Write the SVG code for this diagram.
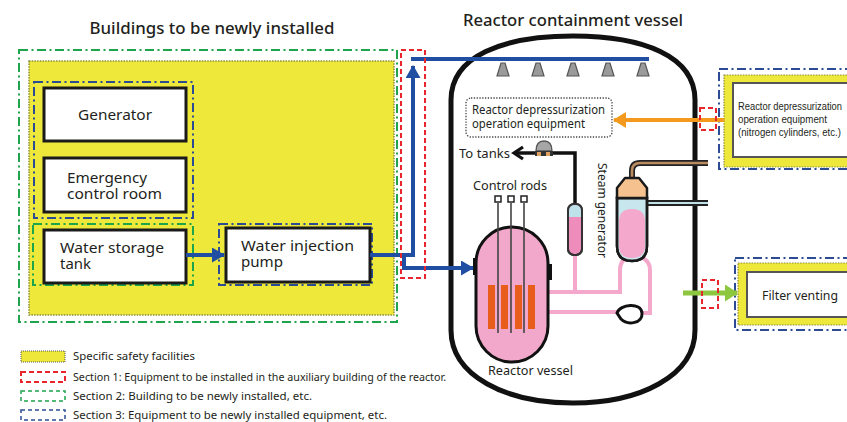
<svg xmlns="http://www.w3.org/2000/svg" width="847" height="422" viewBox="0 0 847 422">
  <style>
    text { font-family: "Noto Sans", "Liberation Sans", sans-serif; fill: #231f20; }
    .title { font-size: 17px; font-weight: 500; }
    .lbl { font-size: 14px; }
    .sm { font-size: 12.5px; }
    .sm2 { font-size: 12px; }
    .xs { font-family: "Liberation Sans Narrow", "Liberation Sans", sans-serif; font-size: 10.5px; }
    .lg { font-size: 11px; }
    .box { fill: #fff; stroke: #1a1a1a; stroke-width: 3; }
    .yellow { fill: #ede83a; stroke: #8d8a3c; stroke-width: 1.5; stroke-dasharray: 1.5 1.2; }
    .sec1 { fill: none; stroke: #e8262d; stroke-width: 2; stroke-dasharray: 5 3; }
    .sec2 { fill: none; stroke: #1ea44b; stroke-width: 2; stroke-dasharray: 9 3.5 2 3.5; }
    .sec3 { fill: none; stroke: #2b4c94; stroke-width: 2; stroke-dasharray: 9 3.5 2 3.5; }
    .blue { fill: none; stroke: #1f4ea3; stroke-width: 4; }
    .pink { fill: none; stroke: #f4a9cc; stroke-width: 4; }
    .nozzle { fill: #9a9a9a; stroke: #555; stroke-width: 1.2; }
  </style>
  <defs>
    <marker id="arrBlue" markerUnits="userSpaceOnUse" markerWidth="13" markerHeight="15" refX="12" refY="7.5" orient="auto">
      <path d="M0,0 L13,7.5 L0,15 Z" fill="#1f4ea3"/>
    </marker>
    <marker id="arrOrange" markerUnits="userSpaceOnUse" markerWidth="13" markerHeight="16" refX="12" refY="8" orient="auto">
      <path d="M0,0 L13,8 L0,16 Z" fill="#f39a1e"/>
    </marker>
    <marker id="arrGreen" markerUnits="userSpaceOnUse" markerWidth="13" markerHeight="17" refX="12" refY="8.5" orient="auto">
      <path d="M0,0 L13,8.5 L0,17 Z" fill="#8dc63f"/>
    </marker>
    <marker id="arrBlack" markerUnits="userSpaceOnUse" markerWidth="14" markerHeight="16" refX="11" refY="8" orient="auto">
      <path d="M2,2 L11,8 L2,14" fill="none" stroke="#111" stroke-width="3.2" stroke-linejoin="miter"/>
    </marker>
  </defs>

  <!-- headings -->
  <text class="title" x="212" y="34" text-anchor="middle" textLength="245" lengthAdjust="spacingAndGlyphs">Buildings to be newly installed</text>
  <text class="title" x="573" y="26" text-anchor="middle" textLength="220" lengthAdjust="spacingAndGlyphs">Reactor containment vessel</text>

  <!-- new building area -->
  <g id="new-building">
    <rect class="sec2" x="19" y="50" width="378" height="272"/>
    <rect class="yellow" x="29" y="61" width="365" height="254"/>
  </g>

  <g id="generator-group">
    <rect class="sec3" x="34" y="82" width="159" height="136"/>
  </g>
  <g id="generator">
    <rect class="box" x="44" y="88" width="142" height="53"/>
    <text class="lbl" x="78" y="120" textLength="74" lengthAdjust="spacingAndGlyphs">Generator</text>
  </g>
  <g id="control-room">
    <rect class="box" x="44" y="158" width="142" height="54"/>
    <text class="lbl" x="67" y="183" textLength="80" lengthAdjust="spacingAndGlyphs">Emergency</text>
    <text class="lbl" x="67" y="199" textLength="95" lengthAdjust="spacingAndGlyphs">control room</text>
  </g>
  <g id="water-tank">
    <rect class="sec2" x="33" y="224" width="160" height="61"/>
    <rect class="box" x="44" y="230" width="142" height="53"/>
    <text class="lbl" x="60" y="253" textLength="104" lengthAdjust="spacingAndGlyphs">Water storage</text>
    <text class="lbl" x="60" y="269" textLength="31" lengthAdjust="spacingAndGlyphs">tank</text>
  </g>
  <g id="injection-pump">
    <rect class="sec3" x="219" y="224" width="153" height="61"/>
    <rect class="box" x="226" y="228" width="144" height="54"/>
    <text class="lbl" x="241" y="251" textLength="113" lengthAdjust="spacingAndGlyphs">Water injection</text>
    <text class="lbl" x="241" y="267" textLength="42" lengthAdjust="spacingAndGlyphs">pump</text>
  </g>

  <!-- containment vessel shell -->
  <g id="containment">
    <path d="M451,330 L451,100 C451,56 503,36 573,36 C643,36 695,56 695,100 L695,330 C695,376 640,403 573,403 C506,403 451,376 451,330 Z" fill="#fff" stroke="#111" stroke-width="5"/>
  </g>

  <!-- spray header nozzles -->
  <g id="spray-nozzles">
    <path class="nozzle" d="M501,63 L505,63 L509,76 L497,76 Z"/>
    <path class="nozzle" d="M536,63 L540,63 L544,76 L532,76 Z"/>
    <path class="nozzle" d="M571,63 L575,63 L579,76 L567,76 Z"/>
    <path class="nozzle" d="M606,63 L610,63 L614,76 L602,76 Z"/>
    <path class="nozzle" d="M641,63 L645,63 L649,76 L637,76 Z"/>
  </g>

  <g id="depressurization-inner">
    <rect x="466" y="98" width="146" height="39" rx="5" fill="#fff" stroke="#444" stroke-width="1.3" stroke-dasharray="1.3 1.5"/>
    <text class="sm2" x="472" y="114" textLength="133" lengthAdjust="spacingAndGlyphs">Reactor depressurization</text>
    <text class="sm2" x="472" y="128" textLength="113" lengthAdjust="spacingAndGlyphs">operation equipment</text>
  </g>

  <!-- primary coolant loop pipes -->
  <g id="primary-loop">
    <path class="pink" d="M548,292 L620,292 L620,270 Q620,262 626,258"/>
    <path class="pink" d="M575,255 L575,292"/>
    <path class="pink" d="M548,312 L618,312"/>
    <path class="pink" d="M640,313 L650,313 L650,270 Q650,262 643,258"/>
  </g>

  <g id="coolant-pump">
    <path d="M617,313 C620,304 641,302 642,313 C643,323 628,326 621,319 Z" fill="#fff" stroke="#111" stroke-width="3"/>
  </g>

  <g id="pressurizer">
    <path d="M575,204 L575,153 L552,153" fill="none" stroke="#111" stroke-width="3.5"/>
    <rect x="568" y="204" width="14" height="51" rx="6" fill="#ee8dbc" stroke="#333" stroke-width="2"/>
    <path d="M569,217 L569,210 Q569,205 575,205 Q581,205 581,210 L581,217 Z" fill="#bfe2ea"/>
    <rect x="568" y="204" width="14" height="51" rx="6" fill="none" stroke="#333" stroke-width="2"/>
  </g>

  <g id="valve">
    <path d="M552,153 L514,153" fill="none" stroke="#111" stroke-width="3.5" marker-end="url(#arrBlack)"/>
    <path d="M536,151 Q536,141 544,141 Q552,141 552,151 Z" fill="#a6a6a6" stroke="#555" stroke-width="1.3"/>
    <rect x="535" y="151" width="18" height="5" fill="#333"/>
    <rect x="537" y="152" width="4" height="4" fill="#e0a060"/>
    <rect x="546" y="152" width="4" height="4" fill="#e0a060"/>
    <text class="sm" x="459" y="158" textLength="51" lengthAdjust="spacingAndGlyphs">To tanks</text>
  </g>

  <g id="steam-generator">
    <!-- main steam line -->
    <path d="M632,182 L632,171 Q632,163 640,163 L708,163" fill="none" stroke="#222" stroke-width="6"/>
    <path d="M632,182 L632,171 Q632,163 640,163 L708,163" fill="none" stroke="#b98b5f" stroke-width="2.6"/>
    <!-- feedwater line -->
    <path d="M645,203 L708,203" fill="none" stroke="#222" stroke-width="6"/>
    <path d="M645,203 L708,203" fill="none" stroke="#bfe2ea" stroke-width="2.2"/>
    <path d="M617,198 L617,246 Q617,261 632,261 Q647,261 647,246 L647,198 Z" fill="#c8e6ed" stroke="#1a1a1a" stroke-width="2.5"/>
    <path d="M619,220 Q620,209 632,209 Q644,209 645,220 L645,246 Q645,258 632,258 Q619,258 619,246 Z" fill="#f4a9cc"/>
    <path d="M617,198 L617,246 Q617,261 632,261 Q647,261 647,246 L647,198 Z" fill="none" stroke="#1a1a1a" stroke-width="2.5"/>
    <path d="M625,178 L639,178 L647,188 L647,198 L617,198 L617,188 Z" fill="#f5c28f" stroke="#1a1a1a" stroke-width="2.5" stroke-linejoin="round"/>
    <text class="sm" transform="translate(598,163) rotate(90)" textLength="95" lengthAdjust="spacingAndGlyphs">Steam generator</text>
  </g>

  <g id="reactor-vessel">
    <rect x="473" y="258" width="6" height="17" fill="#111"/>
    <rect x="545" y="264" width="7" height="16" fill="#111"/>
    <rect x="476" y="227" width="72" height="135" rx="36" ry="36" fill="#f2a8ca" stroke="#111" stroke-width="3"/>
    <rect x="488" y="285" width="7" height="44" fill="#e85d1c"/>
    <rect x="501" y="285" width="7" height="44" fill="#e85d1c"/>
    <rect x="515" y="285" width="7" height="44" fill="#e85d1c"/>
    <rect x="528" y="285" width="7" height="44" fill="#e85d1c"/>
    <text class="sm" x="488" y="375" textLength="85" lengthAdjust="spacingAndGlyphs">Reactor vessel</text>
  </g>

  <g id="control-rods">
    <path d="M498,203 L498,333 M511,203 L511,333 M524,203 L524,333" stroke="#444" stroke-width="1.6" fill="none"/>
    <rect x="495" y="196" width="6" height="6" fill="#fff" stroke="#222" stroke-width="1.5"/>
    <rect x="508" y="196" width="6" height="6" fill="#fff" stroke="#222" stroke-width="1.5"/>
    <rect x="521" y="196" width="6" height="6" fill="#fff" stroke="#222" stroke-width="1.5"/>
    <text class="sm" x="473" y="190" textLength="74" lengthAdjust="spacingAndGlyphs">Control rods</text>
  </g>

  <!-- external equipment -->
  <g id="depressurization-equipment">
    <rect class="sec3" x="719" y="69" width="140" height="100"/>
    <rect x="724" y="75" width="130" height="92" fill="#ede83a" stroke="#8d8a3c" stroke-width="1.2" stroke-dasharray="1.5 1.2"/>
    <rect x="733" y="83" width="120" height="74" fill="#fff" stroke="#555" stroke-width="2"/>
    <text class="xs" x="738" y="110" textLength="104" lengthAdjust="spacingAndGlyphs">Reactor depressurization</text>
    <text class="xs" x="738" y="123" textLength="89" lengthAdjust="spacingAndGlyphs">operation equipment</text>
    <text class="xs" x="738" y="136" textLength="103" lengthAdjust="spacingAndGlyphs">(nitrogen cylinders, etc.)</text>
  </g>
  <g id="filter-venting">
    <rect class="sec3" x="735" y="258" width="125" height="72"/>
    <rect x="738" y="263" width="120" height="62" fill="#ede83a" stroke="#8d8a3c" stroke-width="1.2" stroke-dasharray="1.5 1.2"/>
    <rect x="747" y="272" width="110" height="45" fill="#fff" stroke="#555" stroke-width="2"/>
    <text class="sm" x="762" y="300" textLength="76" lengthAdjust="spacingAndGlyphs">Filter venting</text>
  </g>

  <!-- connectors -->
  <g id="connectors">
    <path class="blue" d="M186,255 L224,255" marker-end="url(#arrBlue)"/>
    <path class="blue" d="M370,255 L413,255 L413,66" marker-end="url(#arrBlue)"/>
    <path class="blue" d="M411,59 L649,59"/>
    <path class="blue" d="M404,255 L404,268 L473,268" marker-end="url(#arrBlue)"/>
    <path d="M724,120 L614,120" fill="none" stroke="#f39a1e" stroke-width="4" marker-end="url(#arrOrange)"/>
    <path d="M683,293 L737,293" fill="none" stroke="#8dc63f" stroke-width="5" marker-end="url(#arrGreen)"/>
  </g>

  <!-- section 1 boundaries -->
  <g id="section1-marks">
    <rect class="sec1" x="401" y="50" width="24" height="228"/>
    <rect class="sec1" x="700" y="108" width="16" height="22"/>
    <rect class="sec1" x="702" y="280" width="16" height="28"/>
  </g>

  <!-- legend -->
  <g id="legend">
    <rect x="21" y="351" width="44" height="11" fill="#ede83a" stroke="#555" stroke-width="1" stroke-dasharray="1 1"/>
    <text class="lg" x="73" y="360" textLength="122" lengthAdjust="spacingAndGlyphs">Specific safety facilities</text>
    <rect class="sec1" x="21" y="372" width="44" height="10" stroke-width="1.5" stroke-dasharray="4 3"/>
    <text class="lg" x="73" y="381" textLength="373" lengthAdjust="spacingAndGlyphs">Section 1: Equipment to be installed in the auxiliary building of the reactor.</text>
    <rect x="21" y="391" width="44" height="10" fill="none" stroke="#1ea44b" stroke-width="1.5" stroke-dasharray="4 3"/>
    <text class="lg" x="73" y="400" textLength="239" lengthAdjust="spacingAndGlyphs">Section 2: Building to be newly installed, etc.</text>
    <rect x="21" y="410" width="44" height="10" fill="none" stroke="#2b4c94" stroke-width="1.5" stroke-dasharray="4 3"/>
    <text class="lg" x="73" y="419" textLength="314" lengthAdjust="spacingAndGlyphs">Section 3: Equipment to be newly installed equipment, etc.</text>
  </g>
</svg>
